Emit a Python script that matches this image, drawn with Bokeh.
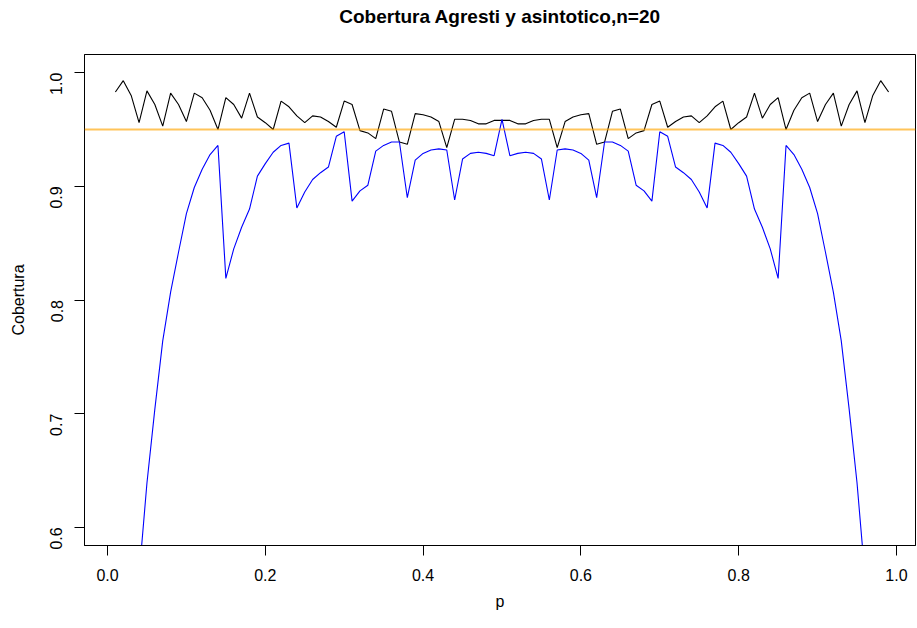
import math
from bokeh.plotting import figure
from bokeh.models import Range1d, FixedTicker, PrintfTickFormatter, Span, ColumnDataSource, Title
from bokeh.embed import file_html
from bokeh.resources import INLINE

# p grid
p_values = [0.01, 0.02, 0.03, 0.04, 0.05, 0.06, 0.07, 0.08, 0.09, 0.10,
            0.11, 0.12, 0.13, 0.14, 0.15, 0.16, 0.17, 0.18, 0.19, 0.20,
            0.21, 0.22, 0.23, 0.24, 0.25, 0.26, 0.27, 0.28, 0.29, 0.30,
            0.31, 0.32, 0.33, 0.34, 0.35, 0.36, 0.37, 0.38, 0.39, 0.40,
            0.41, 0.42, 0.43, 0.44, 0.45, 0.46, 0.47, 0.48, 0.49, 0.50,
            0.51, 0.52, 0.53, 0.54, 0.55, 0.56, 0.57, 0.58, 0.59, 0.60,
            0.61, 0.62, 0.63, 0.64, 0.65, 0.66, 0.67, 0.68, 0.69, 0.70,
            0.71, 0.72, 0.73, 0.74, 0.75, 0.76, 0.77, 0.78, 0.79, 0.80,
            0.81, 0.82, 0.83, 0.84, 0.85, 0.86, 0.87, 0.88, 0.89, 0.90,
            0.91, 0.92, 0.93, 0.94, 0.95, 0.96, 0.97, 0.98, 0.99]

# Agresti coverage (black)
cov_agresti = [0.983, 0.993, 0.980, 0.956, 0.984, 0.972, 0.953, 0.982, 0.972, 0.957,
               0.982, 0.978, 0.967, 0.950, 0.978, 0.972, 0.960, 0.982, 0.961, 0.956,
               0.950, 0.975, 0.970, 0.962, 0.956, 0.962, 0.961, 0.957, 0.952, 0.975,
               0.972, 0.949, 0.947, 0.942, 0.968, 0.966, 0.939, 0.937, 0.964, 0.963,
               0.961, 0.957, 0.934, 0.959, 0.959, 0.958, 0.955, 0.955, 0.958, 0.958,
               0.958, 0.955, 0.955, 0.958, 0.959, 0.959, 0.934, 0.957, 0.961, 0.963,
               0.964, 0.937, 0.939, 0.966, 0.968, 0.942, 0.947, 0.949, 0.972, 0.975,
               0.952, 0.957, 0.961, 0.962, 0.956, 0.962, 0.970, 0.975, 0.950, 0.956,
               0.961, 0.982, 0.960, 0.972, 0.978, 0.950, 0.967, 0.978, 0.982, 0.957,
               0.972, 0.982, 0.953, 0.972, 0.984, 0.956, 0.980, 0.993, 0.983]

# asymptotic (Wald) coverage (blue)
cov_asint = [0.182, 0.332, 0.456, 0.557, 0.639, 0.704, 0.764, 0.807, 0.842, 0.876,
             0.899, 0.915, 0.928, 0.936, 0.819, 0.845, 0.864, 0.880, 0.909, 0.920,
             0.930, 0.936, 0.938, 0.881, 0.895, 0.906, 0.912, 0.917, 0.944, 0.948,
             0.887, 0.896, 0.901, 0.931, 0.936, 0.939, 0.939, 0.890, 0.923, 0.929,
             0.932, 0.933, 0.932, 0.888, 0.924, 0.929, 0.930, 0.929, 0.927, 0.959,
             0.927, 0.929, 0.930, 0.929, 0.924, 0.888, 0.932, 0.933, 0.932, 0.929,
             0.923, 0.890, 0.939, 0.939, 0.936, 0.931, 0.901, 0.896, 0.887, 0.948,
             0.944, 0.917, 0.912, 0.906, 0.895, 0.881, 0.938, 0.936, 0.930, 0.920,
             0.909, 0.880, 0.864, 0.845, 0.819, 0.936, 0.928, 0.915, 0.899, 0.876,
             0.842, 0.807, 0.764, 0.704, 0.639, 0.557, 0.456, 0.332, 0.182]

nominal = 0.95
x_ticks = [0.0, 0.2, 0.4, 0.6, 0.8, 1.0]
y_ticks = [0.6, 0.7, 0.8, 0.9, 1.0]
title_text = "Cobertura Agresti y asintotico,n=20"

FONT = "Liberation Sans"

p = figure(
    frame_width=831, frame_height=491,
    min_border_left=84, min_border_right=1, min_border_top=54, min_border_bottom=82,
    x_range=Range1d(-0.02915, 1.0241), y_range=Range1d(0.584, 1.016),
    output_backend="svg", toolbar_location=None,
)

p.background_fill_color = "white"
p.border_fill_color = "white"
p.outline_line_color = "black"
p.outline_line_width = 1
p.grid.visible = False

# invisible spacer next to the frame, then the real title above it
p.add_layout(Title(text=" ", text_font=FONT, text_font_size="10px",
                   standoff=15, align="center"), "above")
p.add_layout(Title(text=title_text, text_font=FONT, text_font_size="19px",
                   text_font_style="bold", text_color="black",
                   standoff=0, align="center"), "above")

src = ColumnDataSource(dict(p=p_values, ag=cov_agresti, asi=cov_asint))
p.add_layout(Span(location=nominal, dimension="width", line_color="#FFA500",
                  line_alpha=0.65, line_width=2))
p.line("p", "ag", source=src, line_color="black", line_width=1.1)
p.line("p", "asi", source=src, line_color="blue", line_width=1.1)

for ax in (p.xaxis[0], p.yaxis[0]):
    ax.axis_line_color = "black"
    ax.major_tick_line_color = "black"
    ax.major_tick_out = 10
    ax.major_tick_in = 0
    ax.minor_tick_line_color = None
    ax.major_label_text_font = FONT
    ax.major_label_text_font_size = "16px"
    ax.major_label_text_color = "black"
    ax.axis_label_text_font = FONT
    ax.axis_label_text_font_size = "16px"
    ax.axis_label_text_font_style = "normal"
    ax.axis_label_text_color = "black"
    ax.formatter = PrintfTickFormatter(format="%.1f")

p.xaxis[0].ticker = FixedTicker(ticks=x_ticks)
p.yaxis[0].ticker = FixedTicker(ticks=y_ticks)
p.xaxis[0].axis_label = "p"
p.yaxis[0].axis_label = "Cobertura"
p.xaxis[0].major_label_standoff = 13
p.xaxis[0].axis_label_standoff = 9
p.yaxis[0].major_label_orientation = math.pi / 2
p.yaxis[0].major_label_standoff = 18
p.yaxis[0].axis_label_standoff = 15

open("out.html", "w").write(file_html(p, INLINE))
